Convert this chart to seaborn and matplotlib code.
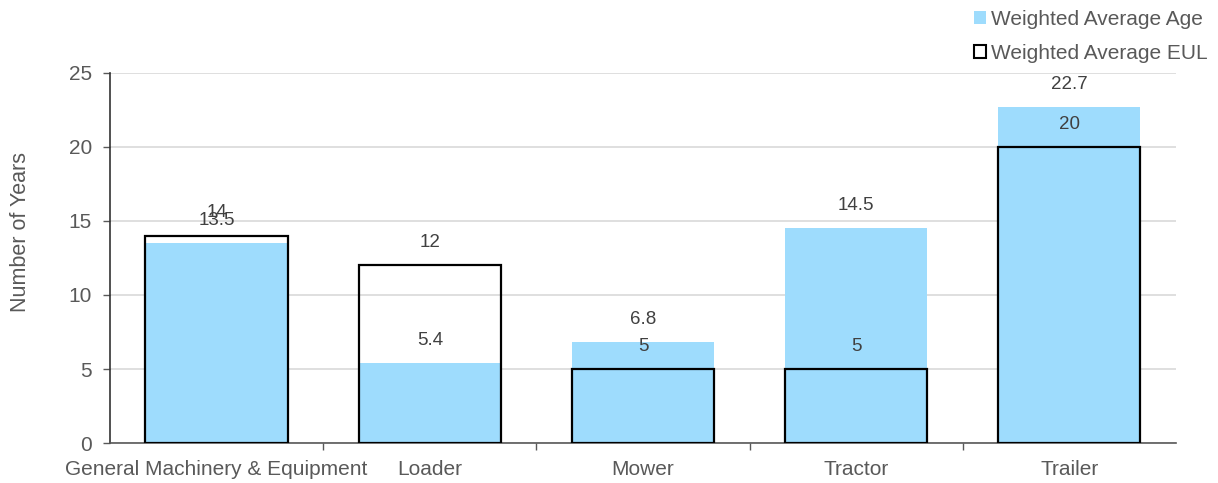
import matplotlib
matplotlib.use("Agg")
import matplotlib.pyplot as plt
from matplotlib.patches import Patch
import seaborn as sns
import pandas as pd

categories = ["General Machinery & Equipment", "Loader", "Mower", "Tractor", "Trailer"]
avg_age = [13.5, 5.4, 6.8, 14.5, 22.7]
avg_eul = [14, 12, 5, 5, 20]
age_labels = ["13.5", "5.4", "6.8", "14.5", "22.7"]
eul_labels = ["14", "12", "5", "5", "20"]

sns.set_theme(style="white")
plt.rcParams["font.family"] = ["Liberation Sans", "DejaVu Sans"]

TEXT = "#595959"
AGE_COLOR = "#9edcfd"

df = pd.DataFrame({"Category": categories, "Age": avg_age, "EUL": avg_eul})

fig = plt.figure(figsize=(12.18, 4.83), dpi=100)
ax = fig.add_axes([0.0903, 0.0828, 0.8752, 0.7661])

sns.barplot(data=df, x="Category", y="Age", color=AGE_COLOR, width=0.667,
            saturation=1, ax=ax, zorder=2, linewidth=0)
sns.barplot(data=df, x="Category", y="EUL", fill=False, width=0.667,
            edgecolor="black", linewidth=1.6, ax=ax, zorder=3)

# value labels above each bar
for i, (v, t) in enumerate(zip(avg_age, age_labels)):
    ax.annotate(t, (i, v), xytext=(0, 16.5), textcoords="offset points",
                ha="center", va="center", fontsize=13.5, color="#404040", zorder=4)
for i, (v, t) in enumerate(zip(avg_eul, eul_labels)):
    ax.annotate(t, (i, v), xytext=(0, 16.5), textcoords="offset points",
                ha="center", va="center", fontsize=13.5, color="#404040", zorder=4)

ax.set_xlim(-0.5, len(categories) - 0.5)
ax.set_ylim(0, 25)
ax.set_yticks([0, 5, 10, 15, 20, 25])
ax.yaxis.grid(True, color="#d9d9d9", linewidth=1.2, zorder=0)
ax.set_axisbelow(True)

ax.set_xlabel("")
ax.set_ylabel("Number of Years", fontsize=15.5, color=TEXT)
ax.yaxis.set_label_coords(-0.074, 0.57)

# category ticks at boundaries, labels centered under bars
ax.set_xticks([i + 0.5 for i in range(len(categories) - 1)], minor=False)
ax.set_xticklabels([])
ax.set_xticks(range(len(categories)), minor=True)
ax.set_xticklabels(categories, minor=True)
ax.tick_params(axis="x", which="major", length=5, width=1, color="#595959", direction="out", bottom=True)
ax.tick_params(axis="x", which="minor", length=0, labelsize=15, labelcolor=TEXT, pad=12)
ax.tick_params(axis="y", length=5, width=1, color="#595959", direction="out", left=True,
               labelsize=15, labelcolor=TEXT, pad=8)

for s in ["top", "right"]:
    ax.spines[s].set_visible(False)
ax.spines["left"].set_color("#333333")
ax.spines["left"].set_linewidth(1.2)
ax.spines["bottom"].set_color("#595959")
ax.spines["bottom"].set_linewidth(1.2)

handles = [Patch(facecolor=AGE_COLOR, edgecolor="none"),
           Patch(facecolor="white", edgecolor="black", linewidth=1.5)]
fig.legend(handles, ["Weighted Average Age", "Weighted Average EUL"],
           loc="upper right", bbox_to_anchor=(1.007, 1.018), frameon=False,
           fontsize=15, labelcolor=TEXT, handlelength=0.55, handleheight=0.55,
           handletextpad=0.25, labelspacing=0.7)

fig.savefig("out.png", dpi=100)
